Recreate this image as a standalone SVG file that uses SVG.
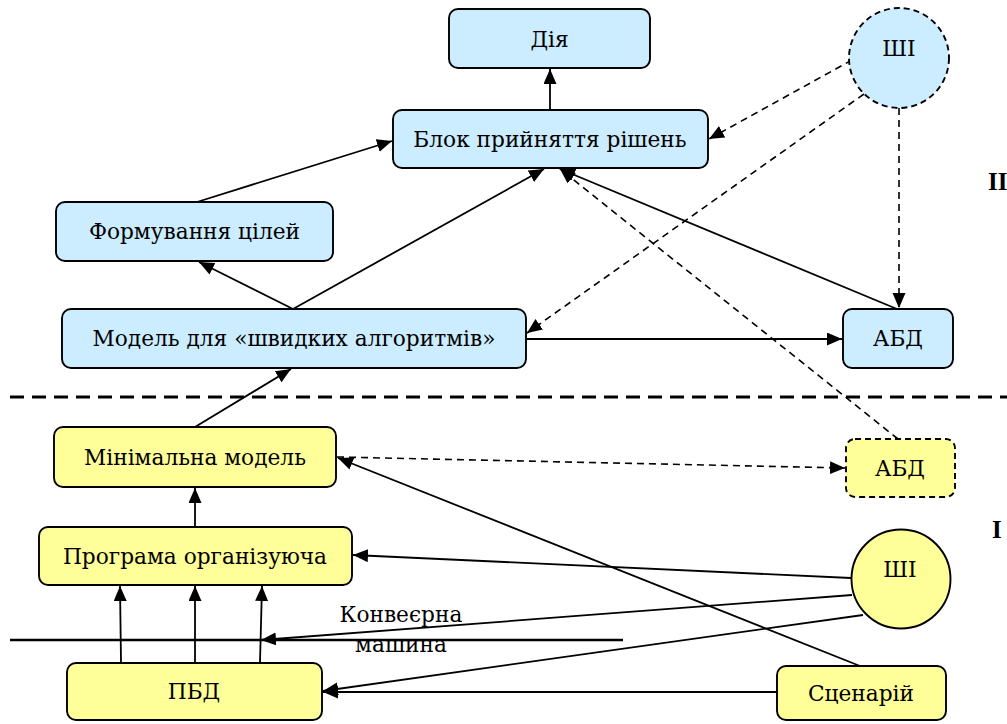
<svg xmlns="http://www.w3.org/2000/svg" width="1007" height="724" viewBox="0 0 1007 724">
<defs>
<marker id="ah" markerUnits="userSpaceOnUse" markerWidth="16" markerHeight="14" refX="15" refY="6.5" orient="auto">
<path d="M0,0 L15,6.5 L0,13 z" fill="#000"/>
</marker>
<style>
.blue{fill:#CCECFF;stroke:#000;stroke-width:1.9}
.yel{fill:#FFFF99;stroke:#000;stroke-width:1.9}
.dash{stroke-dasharray:6,4}
.t{font-family:'DejaVu Serif','Liberation Serif',serif;font-size:21.7px;fill:#000;text-anchor:middle}
.c{stroke:#000;stroke-width:1.8;fill:none;marker-end:url(#ah)}
.cd{stroke:#000;stroke-width:1.6;fill:none;stroke-dasharray:7,5;marker-end:url(#ah)}
.lbl{font-family:'Liberation Serif','DejaVu Serif',serif;font-weight:bold;font-size:25px;fill:#000}
</style>
</defs>
<rect width="1007" height="724" fill="#fff"/>

<line x1="10" y1="397" x2="1007" y2="397" stroke="#000" stroke-width="3" stroke-dasharray="14,8"/>
<line x1="10" y1="640" x2="623" y2="640" stroke="#000" stroke-width="2.5"/>

<g id="connectors">
<line class="c" x1="550" y1="110" x2="550" y2="69"/>
<line class="c" x1="197" y1="202" x2="392" y2="141"/>
<line class="c" x1="293" y1="309" x2="199" y2="262"/>
<line class="c" x1="293" y1="309" x2="544" y2="169"/>
<line class="c" x1="897" y1="309" x2="560" y2="169"/>
<line class="c" x1="526" y1="339" x2="842" y2="339"/>
<line class="cd" x1="852" y1="60" x2="709" y2="139"/>
<line class="cd" x1="864" y1="94" x2="527" y2="333"/>
<line class="cd" x1="899" y1="108" x2="899" y2="308"/>
<line class="cd" x1="898" y1="439" x2="560" y2="169"/>
<line class="c" x1="195" y1="427" x2="291" y2="369"/>
<line class="c" x1="195" y1="527" x2="195" y2="488"/>
<line class="cd" x1="337" y1="457" x2="845" y2="468"/>
<line class="c" x1="860" y1="666" x2="338" y2="458"/>
<line class="c" x1="851" y1="578" x2="353" y2="555"/>
<line class="c" x1="852" y1="595" x2="261" y2="640"/>
<line class="c" x1="863" y1="615" x2="323" y2="691"/>
<line class="c" x1="777" y1="692" x2="323" y2="692"/>
<line class="c" x1="121" y1="662" x2="120" y2="586"/>
<line class="c" x1="195" y1="662" x2="195" y2="586"/>
<line class="c" x1="260" y1="662" x2="262" y2="586"/>
</g>

<g id="dia"><rect class="blue" x="449" y="9" width="201" height="59" rx="9"/><text class="t" x="549.5" y="47">Дія</text></g>
<g id="blok"><rect class="blue" x="393" y="110" width="315" height="58" rx="9"/><text class="t" x="550" y="147">Блок прийняття рішень</text></g>
<g id="shi-top"><circle class="blue dash" cx="899" cy="58" r="50"/><text class="t" x="899" y="56">ШІ</text></g>
<g id="form"><rect class="blue" x="56" y="202" width="277" height="59" rx="9"/><text class="t" x="194.5" y="239">Формування цілей</text></g>
<g id="model"><rect class="blue" x="62" y="309" width="464" height="59" rx="9"/><text class="t" x="294" y="346">Модель для «швидких алгоритмів»</text></g>
<g id="abd-top"><rect class="blue" x="843" y="309" width="110" height="59" rx="9"/><text class="t" x="898" y="346">АБД</text></g>
<g id="min"><rect class="yel" x="54" y="427" width="282" height="60" rx="9"/><text class="t" x="195" y="465">Мінімальна модель</text></g>
<g id="abd-bot"><rect class="yel dash" x="846" y="439" width="109" height="58" rx="9"/><text class="t" x="900" y="476">АБД</text></g>
<g id="prog"><rect class="yel" x="39" y="527" width="313" height="58" rx="9"/><text class="t" x="195" y="564">Програма організуюча</text></g>
<g id="shi-bot"><circle class="yel" cx="901" cy="579" r="49.5"/><text class="t" x="900" y="577">ШІ</text></g>
<g id="pbd"><rect class="yel" x="67" y="663" width="255" height="57" rx="9"/><text class="t" x="194" y="699">ПБД</text></g>
<g id="scen"><rect class="yel" x="777" y="666" width="169" height="54" rx="9"/><text class="t" x="861" y="701">Сценарій</text></g>

<g id="conveyor-label">
<text class="t" x="401" y="622">Конвеєрна</text>
<text class="t" x="401" y="652">машина</text>
</g>
<text class="lbl" x="988" y="190">II</text>
<text class="lbl" x="992" y="538">I</text>
</svg>
